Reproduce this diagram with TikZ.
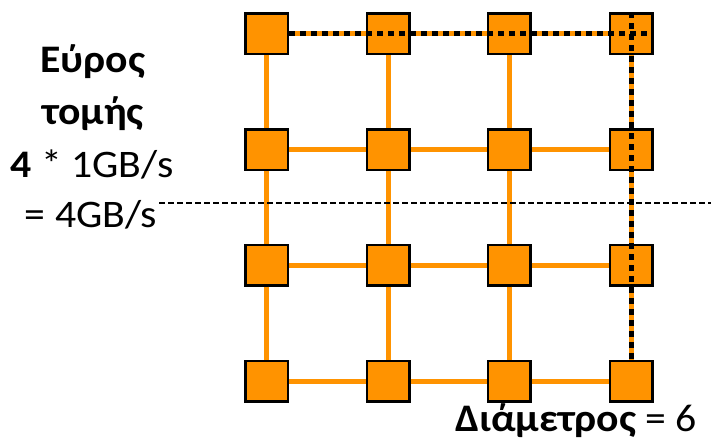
\documentclass[tikz,border=0pt]{standalone}
\usepackage{fontspec}
\setmainfont{Carlito}[FakeStretch=1.07]
\definecolor{meshorange}{RGB}{255,147,0}
\tikzset{
  router/.style={draw=black, line width=2.5pt, fill=meshorange, minimum width=42.5pt, minimum height=40.5pt, inner sep=0pt},
  link/.style={meshorange, line width=5pt},
  route/.style={black, line width=5pt, dash pattern=on 5.5pt off 5.5pt},
  cutline/.style={black, line width=1.5pt, dash pattern=on 5.5pt off 3.5pt},
  txt/.style={font=\fontsize{39}{50}\selectfont, anchor=base, inner sep=0pt}
}
\begin{document}
\begin{tikzpicture}[x=1pt,y=-1pt]
        \useasboundingbox (0,0) rectangle (711,442);
        \foreach \r/\y in {1/33.5,2/149.5,3/265,4/381}
          \foreach \c/\x in {1/266.5,2/388,3/509,4/631}
            \node[router] (n\r\c) at (\x,\y) {};
        \foreach \r in {1,...,4}
          \foreach \c/\d in {1/2,2/3,3/4}
            \draw[link] (n\r\c) -- (n\r\d);
        \foreach \c in {1,...,4}
          \foreach \r/\s in {1/2,2/3,3/4}
            \draw[link] (n\r\c) -- (n\s\c);
        % longest path
        \draw[route] (n11.east) -- (n14.east);
        \draw[route] (n14.north) -- (n44.north);
        % bisection
        \coordinate (cutL) at (159,203);
        \coordinate (cutR) at (711,203);
        \draw[cutline] (cutL) -- (cutR);
        \node[txt] (bw1) at (93,72) {\bfseries Εύρος};
        \node[txt] (bw2) at (93,124) {\bfseries τομής};
        \node[txt] (bw3) at (92,177) {\textbf{4} * 1GB/s};
        \node[txt] (bw4) at (91,227) {= 4GB/s};
        \node[txt] (diam) at (576,431) {\textbf{Διάμετρος} = 6};
\end{tikzpicture}
\end{document}
